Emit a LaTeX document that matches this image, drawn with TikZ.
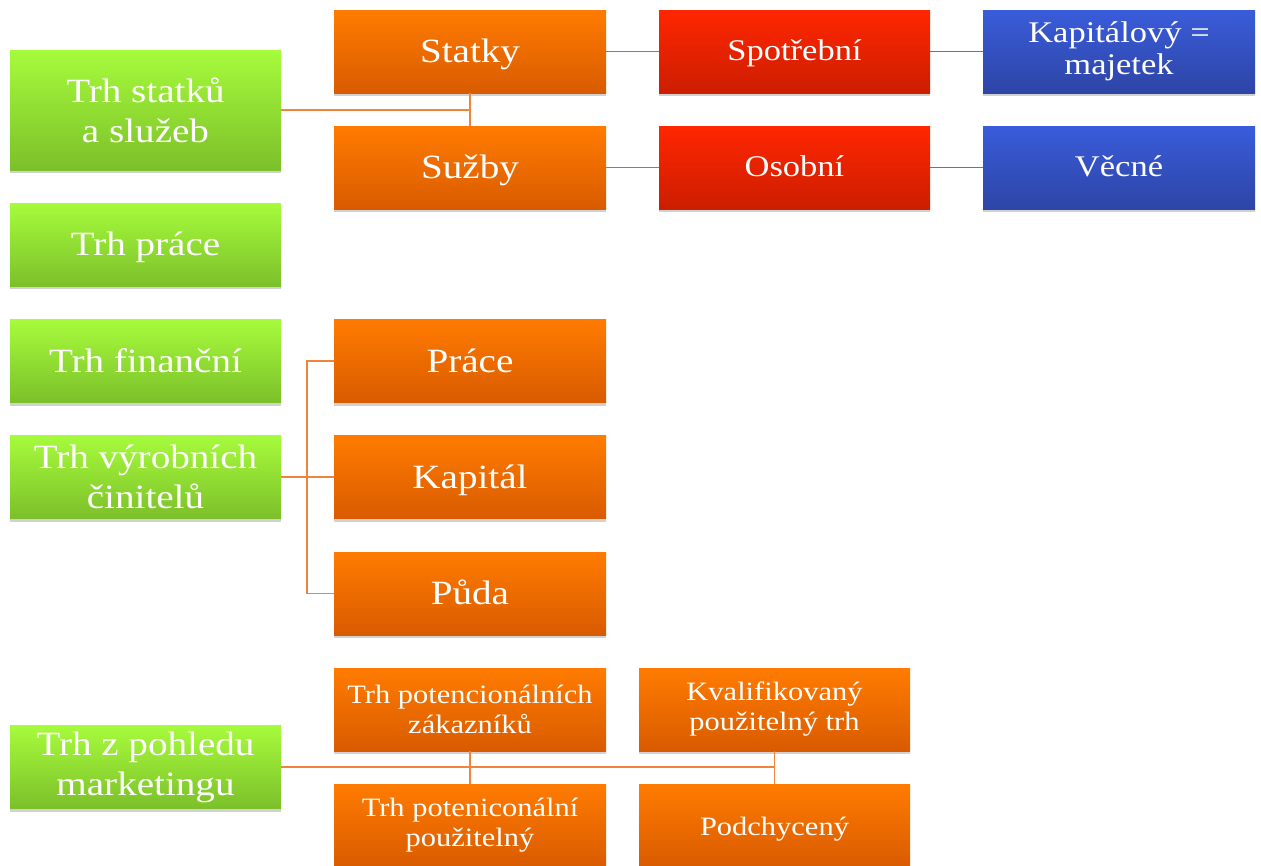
\documentclass[tikz,border=0pt]{standalone}
\usepackage{fontspec}
\setmainfont{Liberation Serif}[FakeStretch=1.15]
\usetikzlibrary{shadows}
\definecolor{gtop}{HTML}{A6FB3C}
\definecolor{gbot}{HTML}{7CC02A}
\definecolor{otop}{HTML}{FF7B00}
\definecolor{obot}{HTML}{D95B00}
\definecolor{rtop}{HTML}{FF2600}
\definecolor{rbot}{HTML}{CC1E00}
\definecolor{btop}{HTML}{3A5CDA}
\definecolor{bbot}{HTML}{2D45A6}
\definecolor{oline}{HTML}{F08438}
\definecolor{rline}{HTML}{E85A40}
\definecolor{bline}{HTML}{5A70CC}
\tikzset{
  box/.style={inner sep=0pt, minimum width=271pt, minimum height=83pt, text=white, align=center,
    drop shadow={shadow xshift=0pt, shadow yshift=-3pt, opacity=0.18, fill=black}},
  greenbox/.style={box, top color=gtop, bottom color=gbot},
  orangebox/.style={box, top color=otop, bottom color=obot},
  redbox/.style={box, top color=rtop, bottom color=rbot},
  bluebox/.style={box, top color=btop, bottom color=bbot},
  big/.style={font=\fontsize{34}{40}\selectfont},
  mid/.style={font=\fontsize{30}{32}\selectfont},
  small/.style={font=\fontsize{26.5}{30}\selectfont},
  oneline/.style={text height=#1, text depth=0pt},
  bigone/.style={big, oneline=22pt},
  midone/.style={mid, oneline=18.6pt},
  smallone/.style={small, oneline=19pt},
  oconn/.style={draw=oline, line width=1.8pt},
  rconn/.style={draw=rline, line width=1.8pt},
  bconn/.style={draw=bline, line width=1.8pt},
}
\begin{document}
\begin{tikzpicture}[x=1pt, y=-1pt]
\useasboundingbox (0,0) rectangle (1261,865);
\coordinate (j1) at (470,110);
\coordinate (j2) at (307,477);
\coordinate (j3) at (774.5,767);
% green
\node[greenbox, big, minimum height=120pt] (g1) at (145.5,110) {Trh statků\\a služeb};
\node[greenbox, bigone] (g2) at (145.5,244.5) {Trh práce};
\node[greenbox, bigone] (g3) at (145.5,361) {Trh finanční};
\node[greenbox, big] (g4) at (145.5,477) {Trh výrobních\\činitelů};
\node[greenbox, big] (g5) at (145.5,767) {Trh z pohledu\\marketingu};
% orange col 1
\node[orangebox, bigone, minimum width=272pt] (statky) at (470,51.5) {Statky};
\node[orangebox, bigone, minimum width=272pt] (suzby) at (470,167.5) {Sužby};
\node[orangebox, bigone, minimum width=272pt] (prace) at (470,361) {Práce};
\node[orangebox, bigone, minimum width=272pt] (kapital) at (470,477) {Kapitál};
\node[orangebox, bigone, minimum width=272pt] (puda) at (470,593.5) {Půda};
\node[orangebox, small, minimum width=272pt] (tpz) at (470,709.5) {Trh potencionálních\\zákazníků};
\node[orangebox, small, minimum width=272pt] (tpp) at (470,825.5) {Trh poteniconální\\použitelný};
% orange col 2
\node[orangebox, small] (kval) at (774.5,709.5) {Kvalifikovaný\\použitelný trh};
\node[orangebox, smallone] (podch) at (774.5,825.5) {Podchycený};
% red
\node[redbox, midone] (spot) at (794.5,51.5) {Spotřební};
\node[redbox, midone] (osob) at (794.5,167.5) {Osobní};
% blue
\node[bluebox, mid, minimum width=272pt] (kapm) at (1119,51.5) {Kapitálový =\\majetek};
\node[bluebox, midone, minimum width=272pt] (vec) at (1119,167.5) {Věcné};
% connectors
\draw[oconn] (g1.east) -- (j1);
\draw[oconn] (statky.south) -- (suzby.north);
\draw[rconn] (statky.east) -- (spot.west);
\draw[rconn] (suzby.east) -- (osob.west);
\draw[bconn] (spot.east) -- (kapm.west);
\draw[bconn] (osob.east) -- (vec.west);
\draw[oconn] (g4.east) -- (j2);
\draw[oconn] (prace.west) -| (j2) |- (puda.west);
\draw[oconn] (j2) -- (kapital.west);
\draw[oconn] (g5.east) -- (j3);
\draw[oconn] (tpz.south) -- (tpp.north);
\draw[oconn] (kval.south) -- (podch.north);
\end{tikzpicture}
\end{document}
